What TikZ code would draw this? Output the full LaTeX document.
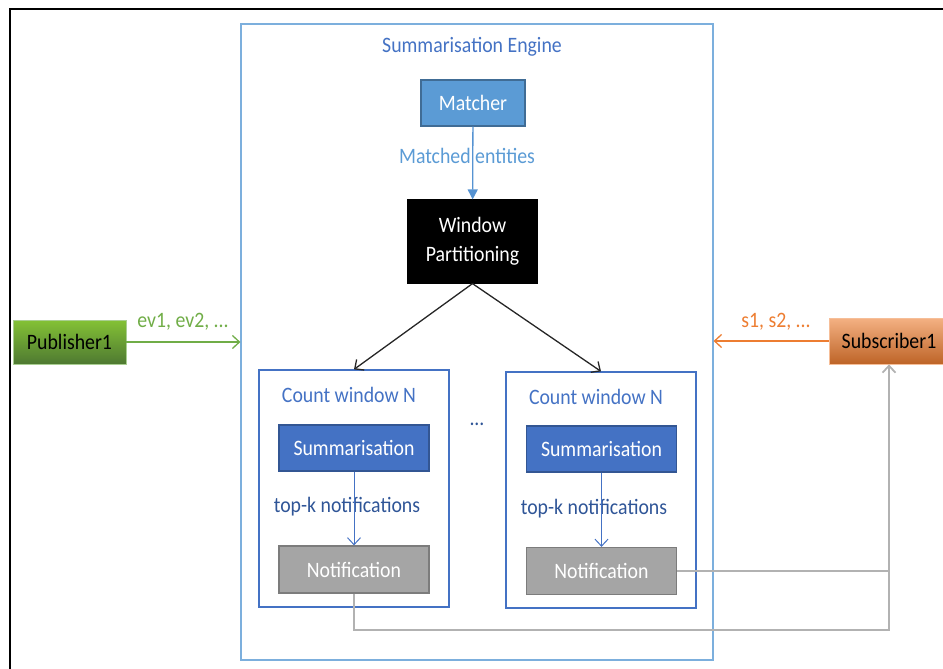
\documentclass[tikz,border=0pt]{standalone}
\usepackage{fontspec}
\setmainfont{Carlito}[FakeStretch=0.9]
\usetikzlibrary{arrows.meta, positioning}
\definecolor{lblue}{HTML}{5B9BD5}
\definecolor{mblue}{HTML}{4472C4}
\definecolor{dblue}{HTML}{2F5597}
\definecolor{ngray}{HTML}{A5A5A5}
\definecolor{pgreen}{HTML}{70AD47}
\definecolor{sorange}{HTML}{ED7D31}
\tikzstyle{block} = [rectangle, draw, text=white, text centered, minimum width=150pt, minimum height=46pt, inner sep=2pt, line width=1.2pt, font=\fontsize{22}{29}\selectfont]
\tikzstyle{frame} = [rectangle, draw, line width=1.2pt]
\tikzstyle{label} = [inner sep=0pt, font=\fontsize{22}{26}\selectfont]
\tikzstyle{line} = [draw, line width=1.3pt, -{Straight Barb[length=7pt, width=13pt]}]
\tikzstyle{gline} = [draw, ngray!85!white, line width=1.8pt]

\begin{document}
\begin{tikzpicture}[x=1pt, y=-1pt]
        \useasboundingbox (0,0) rectangle (943,669);
        \draw[line width=2.2pt] (943,9) -- (10,9) -- (10,669);

        \node[frame, draw=lblue!80, minimum width=472pt, minimum height=636pt] (00) at (477,342) {};
        \node[label, text=mblue] (01) at (472,47) {Summarisation Engine};

        \node[block, fill=lblue, draw=lblue!70!black, minimum width=104pt] (02) at (473,103) {Matcher};
        \node[label, text=lblue] (03) at (467,156) {Matched entities};
        \node[block, fill=black, minimum width=129pt, minimum height=83pt, align=center] (04) at (472.5,241.5) {Window\\Partitioning};
        \path[line, lblue!80!mblue, -{Triangle[length=10pt, width=10pt]}] (02) -- (04);

        \node[frame, draw=mblue, minimum width=190pt, minimum height=237pt] (05) at (354,488.5) {};
        \node[frame, draw=mblue, minimum width=190pt, minimum height=236pt] (06) at (601,490) {};
        \path[line, black!85] (04.south) -- (05.north);
        \path[line, black!85] (04.south) -- (06.north);
        \node[label, text=mblue] (07) at (349,395) {Count window N};
        \node[label, text=mblue] (08) at (596,397) {Count window N};
        \node[label, text=dblue] (15) at (477,424) {...};

        \node[block, fill=mblue, draw=mblue!75!black] (09) at (354,448) {Summarisation};
        \node[block, fill=mblue, draw=mblue!75!black] (10) at (601.5,449) {Summarisation};
        \node[label, text=dblue] (11) at (347,507) {top-k notifications};
        \node[label, text=dblue] (12) at (594,509) {top-k notifications};
        \node[block, fill=ngray, draw=ngray!75!black, minimum height=47pt] (13) at (354,569.5) {Notification};
        \node[block, fill=ngray, draw=ngray!75!black, minimum height=47pt] (14) at (601.5,571) {Notification};
        \path[line, mblue, line width=1pt] (09) -- (13);
        \path[line, mblue, line width=1pt] (10) -- (14);

        \node[block, text=black, top color=pgreen!75!lime, bottom color=pgreen!70!black, draw=pgreen!60!white, minimum width=113pt, minimum height=44pt, line width=0.8pt] (16) at (69.5,342) {Publisher1};
        \node[label, text=pgreen] (18) at (183,322) {ev1, ev2, ...};
        \path[line, pgreen] (16.east) -- (16.east -| 00.west);

        \node[block, text=black, top color=sorange!60!white, bottom color=sorange!80!black, draw=sorange!50!white, minimum width=120pt, minimum height=46pt, line width=0.8pt] (17) at (889,341) {Subscriber1};
        \node[label, text=sorange] (19) at (776,322) {s1, s2, ...};
        \path[line, sorange] (17.west) -- (17.west -| 00.east);

        \path[gline, -{Straight Barb[length=7pt, width=13pt]}] (14.east) -| (17.south);
        \path[gline] (13.south) -- ++(0,36) -| (14.east -| 17.south);
    \end{tikzpicture}
\end{document}
